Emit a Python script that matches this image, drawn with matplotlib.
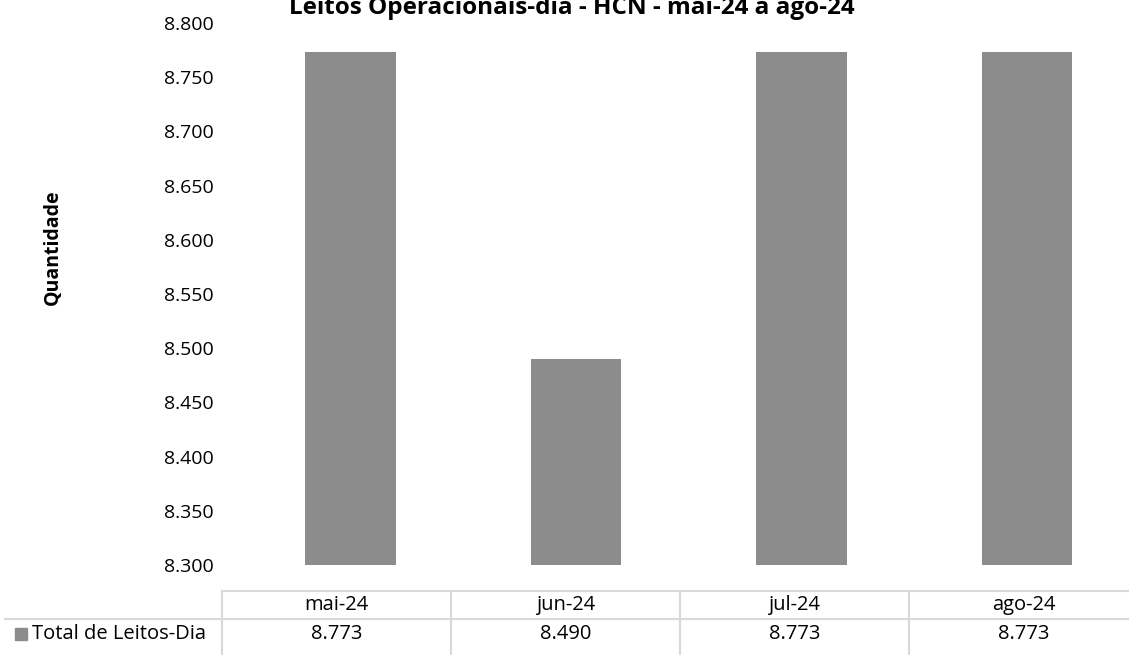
import matplotlib.pyplot as plt
from matplotlib.ticker import FuncFormatter
from matplotlib.patches import Rectangle

plt.rcParams['font.family'] = ['Open Sans', 'DejaVu Sans']

# data
meses = ['mai-24', 'jun-24', 'jul-24', 'ago-24']
leitos_dia = [8773, 8490, 8773, 8773]
serie = 'Total de Leitos-Dia'
titulo = 'Leitos Operacionais-dia - HCN - mai-24 a ago-24'

cor_barra = '#8c8c8c'
cor_linha = '#d9d9d9'
W, H = 1129, 655

def fmt_milhar(v, pos=None):
    return '{:,.0f}'.format(v).replace(',', '.')

fig = plt.figure(figsize=(W / 100, H / 100), dpi=100)
# plot area: x 222..1129 px, y 23..565 px
ax = fig.add_axes([222 / W, (H - 565) / H, 907 / W, 542 / H])

x = list(range(len(meses)))
ax.bar(x, leitos_dia, width=0.40, color=cor_barra)
ax.set_xlim(-0.57, 3.452)
ax.set_ylim(8300, 8800)
ax.set_yticks(range(8300, 8801, 50))
ax.yaxis.set_major_formatter(FuncFormatter(fmt_milhar))
ax.tick_params(axis='y', length=0, labelsize=14, pad=6)
ax.tick_params(axis='x', length=0, labelbottom=False)
for s in ax.spines.values():
    s.set_visible(False)

fig.text(53 / W, 1 - 247 / H, 'Quantidade', rotation=90, fontsize=14,
         fontweight='bold', ha='center', va='center')
fig.text(572 / W, 1 - 14 / H, titulo, fontsize=17.5, fontweight='bold',
         ha='center', va='baseline')

# data table under the chart (figure pixels)
def fx(p):
    return p / W

def fy(p):
    return 1 - p / H

cel0, cel_w = 222, 229
n = len(meses)
kw = dict(color=cor_linha, lw=1.5, transform=fig.transFigure)
fig.add_artist(plt.Line2D([fx(cel0), fx(cel0 + n * cel_w)], [fy(591), fy(591)], **kw))
fig.add_artist(plt.Line2D([fx(5), fx(cel0 + n * cel_w)], [fy(619), fy(619)], **kw))
for b in range(n + 1):
    xb = cel0 + b * cel_w
    fig.add_artist(plt.Line2D([fx(xb), fx(xb)], [fy(591), fy(700)], **kw))

for i, (m, v) in enumerate(zip(meses, leitos_dia)):
    xc = cel0 + (i + 0.5) * cel_w
    fig.text(fx(xc), fy(605), m, ha='center', va='center', fontsize=14.5)
    fig.text(fx(xc), fy(634), fmt_milhar(v), ha='center', va='center', fontsize=14.5)

fig.add_artist(Rectangle((fx(15), fy(640)), 12 / W, 12 / H,
                         transform=fig.transFigure, color=cor_barra))
fig.text(fx(32), fy(634), serie, fontsize=14.5, ha='left', va='center')

fig.savefig('out.png', dpi=100)
